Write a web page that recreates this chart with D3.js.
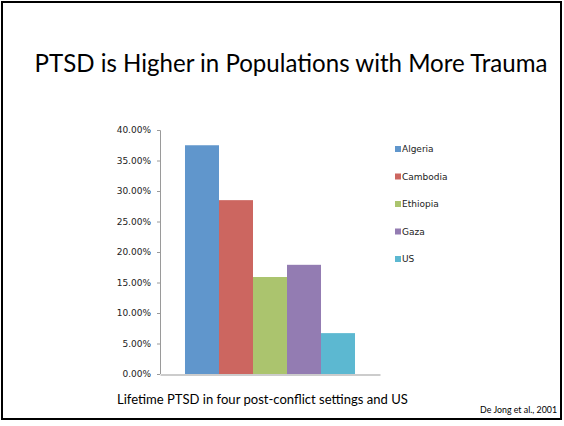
<!DOCTYPE html>
<html><head><meta charset="utf-8">
<script src="https://cdn.jsdelivr.net/npm/d3@7"></script>
<style>
html,body{margin:0;padding:0;background:#fff;}
svg{display:block;}
</style></head>
<body>
<svg id="chart" width="564" height="426"></svg>
<script>
const categories = ["Lifetime PTSD"];
const series = ["Algeria", "Cambodia", "Ethiopia", "Gaza", "US"];
const values = [0.375, 0.285, 0.159, 0.179, 0.067];
const colors = ["#6096CC", "#CC6660", "#ABC46E", "#937CB2", "#5CB8D1"];
const yTicks = [0, 0.05, 0.10, 0.15, 0.20, 0.25, 0.30, 0.35, 0.40];
const title = "PTSD is Higher in Populations with More Trauma";
const caption = "Lifetime PTSD in four post-conflict settings and US";
const source = "De Jong et al., 2001";

(function(){
const svg = d3.select("#chart");
svg.append("rect").attr("x",2).attr("y",2).attr("width",559).attr("height",417)
  .attr("fill","#fff").attr("stroke","#000").attr("stroke-width",2);

const pLeft = 160, pRight = 380, pTop = 130, pBottom = 374;
const y = d3.scaleLinear().domain([0,0.4]).range([pBottom, pTop]);
const x0 = d3.scaleBand().domain(categories).range([pLeft,pRight]).paddingInner(0).paddingOuter(0.147);
const x1 = d3.scaleBand().domain(series).range([0, x0.bandwidth()]).padding(0);

const g = svg.append("g");
g.selectAll("rect.bar").data(series).enter().append("rect")
  .attr("class","bar")
  .attr("x", (s)=> x0(categories[0]) + x1(s))
  .attr("width", x1.bandwidth())
  .attr("y", (s,i)=> y(values[i]))
  .attr("height", (s,i)=> y(0) - y(values[i]))
  .attr("fill", (s,i)=> colors[i]);

const yAxis = d3.axisLeft(y).tickValues(yTicks).tickFormat(d3.format(".2%")).tickSize(3).tickPadding(6);
const ya = svg.append("g").attr("transform",`translate(${pLeft},0)`).call(yAxis);
ya.select(".domain").attr("stroke","#9a9a9a").attr("d",`M-3,${pTop+0.5}H0.5V${pBottom}`);
ya.selectAll(".tick line").attr("stroke","#9a9a9a");
ya.selectAll(".tick text").attr("font-family","DejaVu Sans, Verdana, sans-serif").attr("font-size","9px").attr("fill","#222");

const xAxis = d3.axisBottom(x0).tickSize(0).tickFormat("");
const xa = svg.append("g").attr("transform",`translate(0,${pBottom+0.5})`).call(xAxis);
xa.select(".domain").attr("stroke","#9a9a9a").attr("stroke-width",1.2);

const lg = svg.append("g");
const legY = d3.scalePoint().domain(series).range([149, 259]);
series.forEach((s,i)=>{
  lg.append("rect").attr("x",395).attr("y",legY(s)-3).attr("width",6).attr("height",6).attr("fill",colors[i]);
  lg.append("text").attr("x",402).attr("y",legY(s)+3.3).text(s)
    .attr("font-family","DejaVu Sans, Verdana, sans-serif").attr("font-size","9px").attr("fill","#222");
});

const t = svg.append("text").attr("x",291).attr("y",72).attr("text-anchor","middle")
  .attr("font-family","Lato, 'Open Sans', sans-serif").attr("font-size","27px").attr("fill","#000").text(title);
const tl = t.node().getComputedTextLength();
t.attr("font-size", (27*513/tl).toFixed(2)+"px");

const c = svg.append("text").attr("x",117).attr("y",404)
  .attr("font-family","Lato, 'Open Sans', sans-serif").attr("font-size","13px").attr("fill","#000").text(caption);
const cl = c.node().getComputedTextLength();
c.attr("font-size", (13*291/cl).toFixed(2)+"px");

const s2 = svg.append("text").attr("x",557).attr("y",413).attr("text-anchor","end")
  .attr("font-family","Lato, 'Open Sans', sans-serif").attr("font-size","9px").attr("fill","#000").text(source);
const sl = s2.node().getComputedTextLength();
s2.attr("font-size", (9*77/sl).toFixed(2)+"px");
})();
</script>
</body></html>
